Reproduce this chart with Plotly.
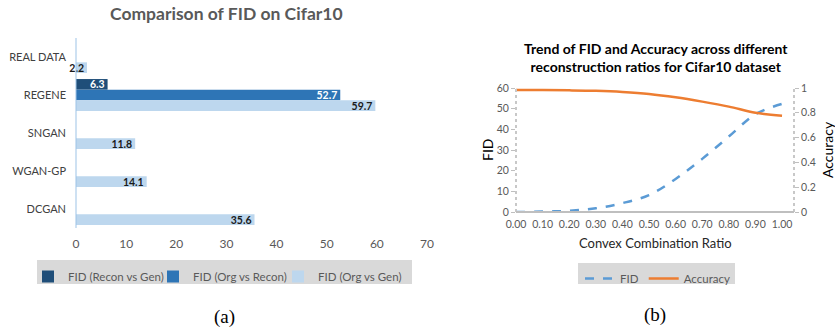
import plotly.graph_objects as go

W, H = 835, 328

# ---------------- data: (a) bar chart ----------------
models = ["REAL DATA", "REGENE", "SNGAN", "WGAN-GP", "DCGAN"]
fid_recon_vs_gen = [None, 6.3, None, None, None]
fid_org_vs_recon = [None, 52.7, None, None, None]
fid_org_vs_gen = [2.2, 59.7, 11.8, 14.1, 35.6]
bar_ticks = [0, 10, 20, 30, 40, 50, 60, 70]

# ---------------- data: (b) line chart ----------------
ratio = [0.0, 0.1, 0.2, 0.3, 0.4, 0.5, 0.6, 0.7, 0.8, 0.9, 1.0]
fid_trend = [0.0, 0.2, 0.6, 1.8, 4.3, 8.2, 16.0, 25.7, 36.5, 47.3, 52.3]
acc_trend = [0.984, 0.983, 0.981, 0.977, 0.968, 0.952, 0.925, 0.89, 0.85, 0.80, 0.776]
fid_ticks = [0, 10, 20, 30, 40, 50, 60]
acc_ticks = [0, 0.2, 0.4, 0.6, 0.8, 1]
acc_ticktext = ["0", "0.2", "0.4", "0.6", "0.8", "1"]


def px(x):
    return x / W


def py(y):
    return 1 - y / H


FONT = "Lato"
GREY = "#595959"

fig = go.Figure()

# --- bars
bar_specs = [
    ("FID (Recon vs Gen)", fid_recon_vs_gen, "#1F4E79", "white"),
    ("FID (Org vs Recon)", fid_org_vs_recon, "#2E75B6", "white"),
    ("FID (Org vs Gen)", fid_org_vs_gen, "#BDD7EE", "#1a1a1a"),
]
for name, vals, col, tcol in bar_specs:
    fig.add_trace(go.Bar(
        y=models, x=vals, name=name, orientation="h",
        marker=dict(color=col, line=dict(width=0)),
        texttemplate="%{x:.1f}", textposition="inside", insidetextanchor="end",
        constraintext="none", textangle=0,
        textfont=dict(family=FONT, size=10.5, color=tcol, weight="bold"),
        xaxis="x", yaxis="y", legend="legend", cliponaxis=False,
    ))

# --- lines
fig.add_trace(go.Scatter(
    x=ratio, y=fid_trend, name="FID", mode="lines",
    line=dict(color="#5B9BD5", width=2.5, dash="dash", shape="spline"),
    xaxis="x2", yaxis="y2", legend="legend2",
))
fig.add_trace(go.Scatter(
    x=ratio, y=acc_trend, name="Accuracy", mode="lines",
    line=dict(color="#ED7D31", width=2.5, shape="spline"),
    xaxis="x2", yaxis="y3", legend="legend2",
))

fig.update_layout(
    width=W, height=H,
    margin=dict(l=0, r=0, t=0, b=0, autoexpand=False),
    paper_bgcolor="white", plot_bgcolor="white",
    font=dict(family=FONT, color=GREY),
    barmode="group", bargap=0.16, bargroupgap=0,
    xaxis=dict(
        domain=[px(76), px(427)], range=[0, 70], tickvals=bar_ticks,
        showgrid=False, zeroline=False, showline=False, ticks="",
        tickfont=dict(size=12, color=GREY), anchor="y", automargin=False,
        ticklabelstandoff=7,
    ),
    yaxis=dict(
        domain=[py(228), py(38)], type="category", categoryarray=models,
        autorange="reversed", showgrid=False, zeroline=False,
        showline=False, ticks="", tickfont=dict(size=11, color="#404040"),
        anchor="x", ticklabelstandoff=9, automargin=False,
    ),
    xaxis2=dict(
        domain=[px(516), px(794)], range=[0, 1.045], tickvals=ratio,
        tickformat=".2f", showgrid=False, zeroline=False, showline=False,
        ticks="", tickfont=dict(size=10.5, color=GREY), anchor="y2",
        automargin=False, ticklabelstandoff=4,
    ),
    yaxis2=dict(
        domain=[py(212), py(88)], range=[0, 60], tickvals=fid_ticks,
        showgrid=False, zeroline=False, showline=False,
        ticks="outside", ticklen=4, tickcolor="#bfbfbf",
        tickfont=dict(size=10.5, color=GREY), anchor="x2", automargin=False,
    ),
    yaxis3=dict(
        domain=[py(212), py(88)], range=[0, 1], tickvals=acc_ticks,
        ticktext=acc_ticktext, overlaying="y2", side="right",
        showgrid=False, zeroline=False, showline=False,
        ticks="outside", ticklen=4, tickcolor="#bfbfbf",
        tickfont=dict(size=10.5, color=GREY), anchor="x2", automargin=False,
    ),
    legend=dict(
        orientation="h", x=px(28), y=py(262), xanchor="left", yanchor="top",
        bgcolor="rgba(0,0,0,0)", font=dict(size=11.5, color=GREY),
        entrywidth=80, entrywidthmode="pixels", traceorder="normal",
        itemclick=False, itemwidth=30,
    ),
    legend2=dict(
        orientation="h", x=px(580), y=py(264), xanchor="left", yanchor="top",
        bgcolor="rgba(0,0,0,0)", font=dict(size=11.5, color=GREY),
        itemclick=False, itemwidth=30,
    ),
    showlegend=True,
)

shapes = [
    # legend boxes
    dict(type="rect", xref="paper", yref="paper", x0=px(37), x1=px(412),
         y0=py(284), y1=py(260), fillcolor="#d9d9d9", line=dict(width=0), layer="below"),
    dict(type="rect", xref="paper", yref="paper", x0=px(578), x1=px(735),
         y0=py(284), y1=py(263), fillcolor="#d9d9d9", line=dict(width=0), layer="below"),
    # bar chart vertical axis line
    dict(type="line", xref="paper", yref="paper", x0=px(76), x1=px(76),
         y0=py(228), y1=py(38), line=dict(color="#9DC3E6", width=1)),
    # line chart axes
    dict(type="line", xref="paper", yref="paper", x0=px(516), x1=px(516),
         y0=py(212), y1=py(86), line=dict(color="#c8c8c8", width=2, dash="dot")),
    dict(type="line", xref="paper", yref="paper", x0=px(794), x1=px(794),
         y0=py(212), y1=py(86), line=dict(color="#c8c8c8", width=2, dash="dot")),
    dict(type="line", xref="paper", yref="paper", x0=px(516), x1=px(794),
         y0=py(212), y1=py(212), line=dict(color="#bfbfbf", width=2)),
]
fig.update_layout(shapes=shapes)

ann = [
    dict(text="<b>Comparison of FID on Cifar10</b>", x=px(226), y=py(13),
         font=dict(size=17.5, color=GREY)),
    dict(text="<b>Trend of FID and Accuracy across different<br>reconstruction ratios for Cifar10 dataset</b>",
         x=px(656), y=py(57.5), font=dict(size=14, color="#000000")),
    dict(text="FID", x=px(487), y=py(150), textangle=-90,
         font=dict(size=14, color="#000000")),
    dict(text="Accuracy", x=px(827), y=py(150), textangle=-90,
         font=dict(size=14, color="#000000")),
    dict(text="Convex Combination Ratio", x=px(655), y=py(243),
         font=dict(size=13, color="#262626")),
    dict(text="(a)", x=px(224), y=py(317),
         font=dict(size=19, family="Liberation Serif", color="#000000")),
    dict(text="(b)", x=px(655), y=py(315),
         font=dict(size=19, family="Liberation Serif", color="#000000")),
]
for a in ann:
    a.update(xref="paper", yref="paper", showarrow=False,
             xanchor="center", yanchor="middle")
fig.update_layout(annotations=ann)

fig.write_html("out.html")
